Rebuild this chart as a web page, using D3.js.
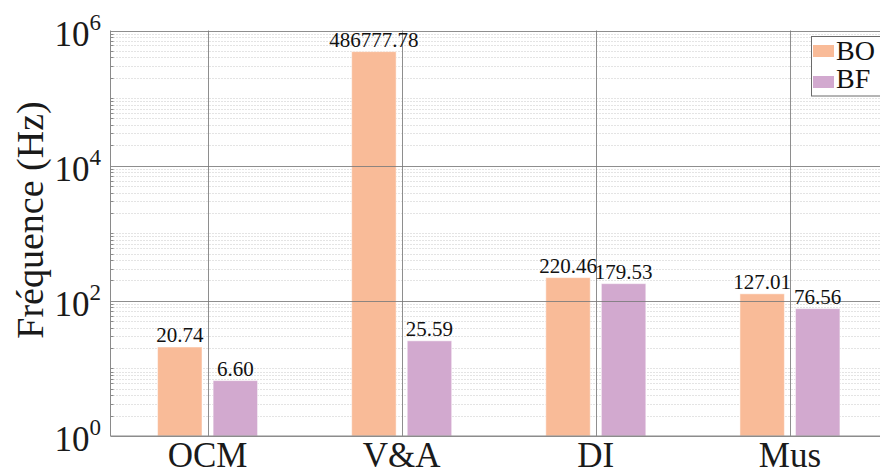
<!DOCTYPE html>
<html><head><meta charset="utf-8">
<script src="https://cdn.jsdelivr.net/npm/d3@7"></script>
<style>body{margin:0;background:#fff}svg{display:block}</style>
</head><body><svg id="c" width="880" height="474"></svg>
<script>
const categories = ["OCM", "V&A", "DI", "Mus"];
const seriesNames = ["BO", "BF"];
const boValues = [20.74, 486777.78, 220.46, 127.01];
const bfValues = [6.60, 25.59, 179.53, 76.56];
const valueLabels = [["20.74", "486777.78", "220.46", "127.01"], ["6.60", "25.59", "179.53", "76.56"]];
const yTickExponents = [0, 2, 4, 6];
const yLabel = "Fréquence (Hz)";
const colors = ["#f9bb98", "#d2a9cf"];

const font = "'Liberation Serif', 'Times New Roman', serif";
const svg = d3.select("#c");
const m = {left: 110.5, right: 887, top: 30.5, bottom: 436};
const x = d3.scaleBand().domain(categories).range([m.left, m.right]);
const x1 = d3.scaleBand().domain(seriesNames).range([-50, 50]).paddingInner(0.2);
const y = d3.scaleLog().domain([1, 1e6]).range([m.bottom, m.top]);
const series = [boValues, bfValues];

// minor grid
const minorVals = [];
for (let k = 0; k < 6; k++) {
  for (let mm = 1; mm <= 9; mm++) {
    if (mm === 1 && k % 2 === 0) continue;
    minorVals.push(mm * Math.pow(10, k));
  }
}
svg.append("g").selectAll("line").data(minorVals).join("line")
  .attr("x1", m.left).attr("x2", m.right)
  .attr("y1", d => Math.round(y(d)) + 0.5).attr("y2", d => Math.round(y(d)) + 0.5)
  .attr("stroke", "#c8c8c8").attr("stroke-width", 1).attr("stroke-dasharray", "1,2");

// bars
series.forEach((vals, si) => {
  svg.append("g").selectAll("rect").data(categories).join("rect")
    .attr("x", (c) => x(c) + x.bandwidth() / 2 + x1(seriesNames[si]))
    .attr("width", x1.bandwidth())
    .attr("y", (c, i) => y(vals[i]))
    .attr("height", (c, i) => m.bottom - y(vals[i]))
    .attr("fill", colors[si])
    .attr("stroke", "#fff").attr("stroke-opacity", 0.5).attr("stroke-width", 1);
});

// major grid (horizontal) on top
svg.append("g").selectAll("line").data(yTickExponents).join("line")
  .attr("x1", m.left).attr("x2", m.right)
  .attr("y1", d => Math.round(y(Math.pow(10, d))) + 0.5).attr("y2", d => Math.round(y(Math.pow(10, d))) + 0.5)
  .attr("stroke", "#7a7a7a").attr("stroke-opacity", 0.85).attr("stroke-width", 1);

// vertical grid at categories
svg.append("g").selectAll("line").data(categories).join("line")
  .attr("x1", c => Math.round(x(c) + x.bandwidth() / 2) + 0.5)
  .attr("x2", c => Math.round(x(c) + x.bandwidth() / 2) + 0.5)
  .attr("y1", m.top).attr("y2", m.bottom)
  .attr("stroke", "#7a7a7a").attr("stroke-opacity", 0.85).attr("stroke-width", 1);

// axes lines
svg.append("line").attr("x1", m.left).attr("x2", m.left).attr("y1", m.top).attr("y2", m.bottom)
  .attr("stroke", "#8a8a8a");
svg.append("line").attr("x1", m.left).attr("x2", m.right).attr("y1", m.bottom).attr("y2", m.bottom)
  .attr("stroke", "#8a8a8a");
// minor ticks on left axis
svg.append("g").selectAll("line").data(minorVals).join("line")
  .attr("x1", m.left).attr("x2", m.left + 3)
  .attr("y1", d => Math.round(y(d)) + 0.5).attr("y2", d => Math.round(y(d)) + 0.5)
  .attr("stroke", "#8a8a8a");

// y tick labels
const yt = svg.append("g").selectAll("text").data(yTickExponents).join("text")
  .attr("x", 101).attr("y", d => y(Math.pow(10, d)) + 15)
  .attr("text-anchor", "end").attr("font-family", font).attr("fill", "#1a1a1a");
yt.append("tspan").attr("font-size", 35).text("10");
yt.append("tspan").attr("font-size", 23).attr("dy", -16).text(d => d);

// x tick labels
svg.append("g").selectAll("text").data(categories).join("text")
  .attr("x", c => x(c) + x.bandwidth() / 2).attr("y", 466.5)
  .attr("text-anchor", "middle").attr("font-family", font).attr("font-size", 35)
  .attr("fill", "#1a1a1a").text(c => c);

// value labels
series.forEach((vals, si) => {
  svg.append("g").selectAll("text").data(categories).join("text")
    .attr("x", c => x(c) + x.bandwidth() / 2 + x1(seriesNames[si]) + x1.bandwidth() / 2)
    .attr("y", (c, i) => y(vals[i]) - 5)
    .attr("text-anchor", "middle").attr("font-family", font).attr("font-size", 21)
    .attr("fill", "#111").text((c, i) => valueLabels[si][i]);
});

// y label
svg.append("text").attr("transform", "translate(43,220) rotate(-90)")
  .attr("text-anchor", "middle").attr("font-family", font).attr("font-size", 38)
  .attr("fill", "#1a1a1a").text(yLabel);

// legend
const lg = svg.append("g");
lg.append("rect").attr("x", 811.5).attr("y", 36.5).attr("width", 90).attr("height", 59.5)
  .attr("fill", "#fff").attr("stroke", "#6a6a6a");
seriesNames.forEach((s, i) => {
  lg.append("rect").attr("x", 813).attr("y", 45 + i * 31).attr("width", 21).attr("height", 12)
    .attr("fill", colors[i]);
  lg.append("text").attr("x", 836).attr("y", 59.5 + i * 28).attr("font-family", font)
    .attr("font-size", 28).attr("fill", "#111").text(s);
});
</script></body></html>
